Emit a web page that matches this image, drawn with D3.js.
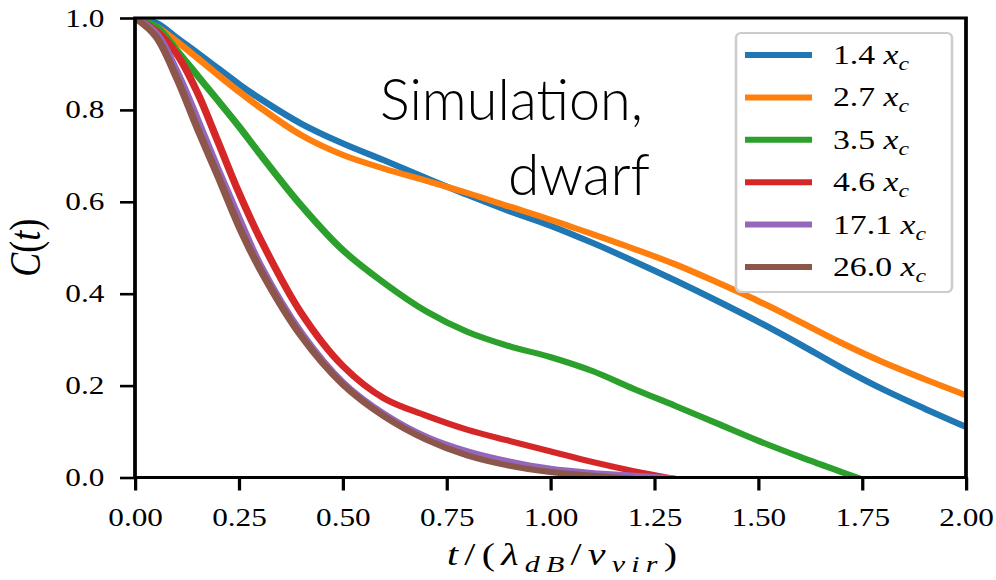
<!DOCTYPE html>
<html>
<head>
<meta charset="utf-8">
<script src="https://cdn.jsdelivr.net/npm/d3@7/dist/d3.min.js"></script>
<style>
  html, body { margin: 0; padding: 0; background: #fff; }
  svg { display: block; }
  .serif { font-family: "Liberation Serif", "DejaVu Serif", serif; }
  .note { font-family: Lato, "Open Sans", sans-serif; font-weight: 300; }
</style>
</head>
<body>
<svg id="chart" width="996" height="580"></svg>
<script>
// Time axis samples, t / (lambda_dB / v_vir)
const tValues = [0, 0.05, 0.1, 0.15, 0.2, 0.25, 0.3, 0.4, 0.5, 0.6, 0.7, 0.8, 0.9,
                 1.0, 1.1, 1.2, 1.3, 1.4, 1.5, 1.6, 1.7, 1.8, 1.9, 2.0];

// Correlation function C(t) for each radius (null = curve has already reached zero)
const c_1p4  = [1.0, 0.990, 0.957, 0.924, 0.890, 0.856, 0.825, 0.770, 0.727, 0.690, 0.652, 0.615, 0.580,
                0.548, 0.511, 0.471, 0.429, 0.385, 0.339, 0.290, 0.239, 0.192, 0.150, 0.110];
const c_2p7  = [1.0, 0.982, 0.949, 0.913, 0.876, 0.840, 0.806, 0.745, 0.702, 0.672, 0.646, 0.619, 0.590,
                0.561, 0.530, 0.498, 0.464, 0.425, 0.384, 0.339, 0.293, 0.251, 0.214, 0.179];
const c_3p5  = [1.0, 0.982, 0.930, 0.875, 0.820, 0.764, 0.705, 0.592, 0.495, 0.423, 0.362, 0.317, 0.286,
                0.262, 0.232, 0.193, 0.156, 0.118, 0.080, 0.045, 0.012, -0.020, null, null];
const c_4p6  = [1.0, 0.973, 0.922, 0.838, 0.730, 0.620, 0.522, 0.358, 0.243, 0.172, 0.135, 0.104, 0.080,
                0.057, 0.034, 0.014, -0.003, null, null, null, null, null, null, null];
const c_17p1 = [1.0, 0.968, 0.885, 0.780, 0.670, 0.565, 0.465, 0.315, 0.207, 0.138, 0.089, 0.057, 0.035,
                0.019, 0.010, 0.004, -0.002, null, null, null, null, null, null, null];
const c_26p0 = [1.0, 0.960, 0.870, 0.760, 0.655, 0.547, 0.455, 0.308, 0.203, 0.133, 0.083, 0.048, 0.026,
                0.012, 0.004, -0.002, null, null, null, null, null, null, null, null];

const seriesLabels = ["1.4", "2.7", "3.5", "4.6", "17.1", "26.0"];
const seriesColors = ["#1f77b4", "#ff7f0e", "#2ca02c", "#d62728", "#9467bd", "#8c564b"];
const seriesValues = [c_1p4, c_2p7, c_3p5, c_4p6, c_17p1, c_26p0];

const xTicks = [0, 0.25, 0.5, 0.75, 1.0, 1.25, 1.5, 1.75, 2.0];
const yTicks = [0, 0.2, 0.4, 0.6, 0.8, 1.0];

// The figure is laid out on a narrower canvas and widened horizontally.
const SX = 1.25;
const svg = d3.select("#chart");
const fig = svg.append("g").attr("transform", `scale(${SX},1)`);

const plot = { left: 108, right: 772.8, top: 18, bottom: 477.5 };
const x = d3.scaleLinear().domain([0, 2]).range([plot.left, plot.right]);
const y = d3.scaleLinear().domain([0, 1]).range([plot.bottom, plot.top]);

fig.append("clipPath").attr("id", "plotClip")
  .append("rect")
  .attr("x", plot.left).attr("y", plot.top)
  .attr("width", plot.right - plot.left).attr("height", plot.bottom - plot.top);

// Curves
const line = d3.line()
  .defined(d => d[1] !== null)
  .x(d => x(d[0]))
  .y(d => y(d[1]))
  .curve(d3.curveCatmullRom.alpha(0.5));

const curves = fig.append("g").attr("clip-path", "url(#plotClip)");
seriesValues.forEach((vals, i) => {
  const pts = tValues.map((t, j) => [t, vals[j]]);
  curves.append("path")
    .datum(pts)
    .attr("d", line)
    .attr("fill", "none")
    .attr("stroke", seriesColors[i])
    .attr("stroke-width", 6)
    .attr("stroke-linejoin", "round");
});

// Axes
const xAxis = d3.axisBottom(x).tickValues(xTicks).tickFormat(d3.format(".2f"))
  .tickSize(13).tickPadding(17.5);
const yAxis = d3.axisLeft(y).tickValues(yTicks).tickFormat(d3.format(".1f"))
  .tickSize(12).tickPadding(12.5);

const gx = fig.append("g").attr("transform", `translate(0,${plot.bottom})`).call(xAxis);
const gy = fig.append("g").attr("transform", `translate(${plot.left},0)`).call(yAxis);
[gx, gy].forEach(g => {
  g.attr("font-family", null).attr("font-size", null);
  g.select(".domain").remove();
  g.selectAll(".tick line").attr("stroke", "#000").attr("stroke-width", 2.6);
  g.selectAll(".tick text").attr("fill", "#000")
    .attr("class", "serif").attr("font-size", 25);
});

// Frame
fig.append("rect")
  .attr("x", plot.left).attr("y", plot.top)
  .attr("width", plot.right - plot.left).attr("height", plot.bottom - plot.top)
  .attr("fill", "none").attr("stroke", "#000").attr("stroke-width", 3);

// Axis labels
const xl = fig.append("text")
  .attr("class", "serif")
  .attr("x", 357.6).attr("y", 565)
  .attr("textLength", 184).attr("lengthAdjust", "spacing")
  .attr("font-size", 32);
xl.append("tspan").attr("font-style", "italic").text("t");
xl.append("tspan").text("/(");
xl.append("tspan").attr("font-style", "italic").text("λ");
xl.append("tspan").attr("font-style", "italic").attr("font-size", 24).attr("dy", 7).text("dB");
xl.append("tspan").attr("dy", -7).text("/");
xl.append("tspan").attr("font-style", "italic").text("v");
xl.append("tspan").attr("font-style", "italic").attr("font-size", 24).attr("dy", 7).text("vir");
xl.append("tspan").attr("dy", -7).text(")");

const yl = fig.append("text")
  .attr("class", "serif")
  .attr("transform", `translate(32,${(plot.top + plot.bottom) / 2}) rotate(-90)`)
  .attr("text-anchor", "middle")
  .attr("font-size", 36);
yl.append("tspan").attr("font-style", "italic").text("C");
yl.append("tspan").text("(");
yl.append("tspan").attr("font-style", "italic").text("t");
yl.append("tspan").text(")");

// Legend
const legend = fig.append("g");
legend.append("rect")
  .attr("x", 588.8).attr("y", 33).attr("width", 172.8).attr("height", 259)
  .attr("rx", 4).attr("ry", 5)
  .attr("fill", "#fff").attr("fill-opacity", 0.8)
  .attr("stroke", "#cccccc").attr("stroke-width", 2);

const rowY = d3.scaleLinear().domain([0, 5]).range([55, 267]);
seriesLabels.forEach((lab, i) => {
  const yy = rowY(i);
  legend.append("line")
    .attr("x1", 596).attr("x2", 649.6).attr("y1", yy).attr("y2", yy)
    .attr("stroke", seriesColors[i]).attr("stroke-width", 6);
  const t = legend.append("text")
    .attr("class", "serif")
    .attr("x", 666.4).attr("y", yy + 9)
    .attr("font-size", 27);
  t.append("tspan").text(lab + " ");
  t.append("tspan").attr("font-style", "italic").text("x");
  t.append("tspan").attr("font-style", "italic").attr("font-size", 19).attr("dy", 6).text("c");
});

// Annotation
svg.append("text")
  .attr("class", "note")
  .attr("x", 380).attr("y", 120)
  .attr("textLength", 263).attr("lengthAdjust", "spacingAndGlyphs")
  .attr("font-size", 58).attr("fill", "#000")
  .text("Simulation,");
svg.append("text")
  .attr("class", "note")
  .attr("x", 508).attr("y", 195)
  .attr("textLength", 142).attr("lengthAdjust", "spacingAndGlyphs")
  .attr("font-size", 58).attr("fill", "#000")
  .text("dwarf");
</script>
</body>
</html>
